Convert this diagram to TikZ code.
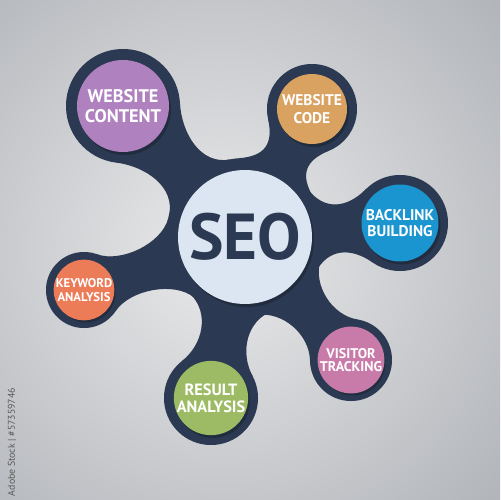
\documentclass[tikz,border=0pt]{standalone}
\usepackage{fontspec}
\setmainfont{PT Sans}
\usetikzlibrary{calc}
\definecolor{navy}{HTML}{2B3A52}
\definecolor{seolight}{HTML}{DCE6F2}
\definecolor{cwc}{HTML}{AF82BF}
\definecolor{cwcode}{HTML}{D9A260}
\definecolor{cback}{HTML}{1B95CF}
\definecolor{ckey}{HTML}{EC7B58}
\definecolor{cres}{HTML}{9DBB64}
\definecolor{cvis}{HTML}{C87AA8}
\definecolor{bgin}{HTML}{EAEAEB}
\definecolor{bgout}{HTML}{B2B5BA}
\tikzset{
  blob/.style={fill=navy},
  sat/.style={circle, inner sep=0pt, text=white, align=center},
}
% #1 centre coord, #2 R, #3 satellite coord, #4 r, #5 axis angle, #6 a, #7 b, #8 k1, #9 k2
\newcommand\neck[9]{%
  \fill[blob] ($(#1)+(#5+#6:#2)$) .. controls +(#5+#6-90:#8) and +(#5-90-#7:#9) ..
    ($(#3)+(#5+180-#7:#4)$) -- ($(#3)+(#5+180+#7:#4)$)
    .. controls +(#5+90+#7:#9) and +(#5-#6+90:#8) .. ($(#1)+(#5-#6:#2)$) -- cycle;}
\newcommand\blobshape{%
  \neck{C}{79}{WC}{57}{227}{32}{50}{30}{30}
  \neck{C}{79}{WK}{45}{297.6}{32}{50}{26}{26}
  \neck{C}{79}{BL}{48}{354.8}{32}{50}{27}{27}
  \neck{C}{79}{KA}{38}{161.8}{32}{52}{26}{26}
  \neck{C}{79}{RA}{47}{101.9}{32}{50}{27}{27}
  \neck{C}{79}{VT}{41}{49.2}{32}{50}{26}{26}
  \fill[blob] (C) circle (79);
  \fill[blob] (WC) circle (57);
  \fill[blob] (WK) circle (45);
  \fill[blob] (BL) circle (48);
  \fill[blob] (KA) circle (38);
  \fill[blob] (RA) circle (47);
  \fill[blob] (VT) circle (41);}
\begin{document}
\begin{tikzpicture}[x=0.02cm,y=-0.02cm]
\useasboundingbox (0,0) rectangle (500,500);
\begin{scope}
  \clip (0,0) rectangle (500,500);
  \shade[inner color=bgin, outer color=bgout] (-150,-120) rectangle (590,620);
\end{scope}
\coordinate (C) at (245,237);
\coordinate (WC) at (123,106);
\coordinate (WK) at (312,109);
\coordinate (BL) at (400,223);
\coordinate (KA) at (84,290);
\coordinate (RA) at (211,398);
\coordinate (VT) at (351,360);
% shadow
\begin{scope}[shift={(4,5)}, transparency group, opacity=0.14, blob/.style={fill=black}]
  \blobshape
\end{scope}
\blobshape
% inner shadows
\foreach \p/\r in {C/67, WC/46, WK/35, BL/38.5, KA/29.5, RA/37, VT/32.5}
  \fill[black, opacity=0.22] ($(\p)+(2,3)$) circle (\r);
% satellites
\node[sat, fill=seolight, minimum size=2.68cm, text=navy,
      font=\fontsize{37}{39}\selectfont\bfseries] (seo) at (C) {SEO};
\node[sat, fill=cwc, minimum size=1.84cm,
      font=\fontsize{10.4}{11.8}\selectfont\bfseries] (wc) at (WC) {WEBSITE\\CONTENT};
\node[sat, fill=cwcode, minimum size=1.40cm,
      font=\fontsize{8.8}{9.9}\selectfont\bfseries] (wk) at (WK) {WEBSITE\\CODE};
\node[sat, fill=cback, minimum size=1.54cm,
      font=\fontsize{8.8}{9.4}\selectfont\bfseries] (bl) at (BL) {BACKLINK\\BUILDING};
\node[sat, fill=ckey, minimum size=1.18cm,
      font=\fontsize{7.2}{7.6}\selectfont\bfseries] (ka) at (KA) {KEYWORD\\ANALYSIS};
\node[sat, fill=cres, minimum size=1.48cm,
      font=\fontsize{9.3}{9.6}\selectfont\bfseries] (ra) at (RA) {RESULT\\ANALYSIS};
\node[sat, fill=cvis, minimum size=1.30cm,
      font=\fontsize{8}{7.8}\selectfont\bfseries] (vt) at (VT) {VISITOR\\TRACKING};
\node[rotate=90, text=black!65, font=\fontsize{5.6}{6}\selectfont] (credit) at (12,442) {Adobe Stock | \#57359746};
\end{tikzpicture}
\end{document}
